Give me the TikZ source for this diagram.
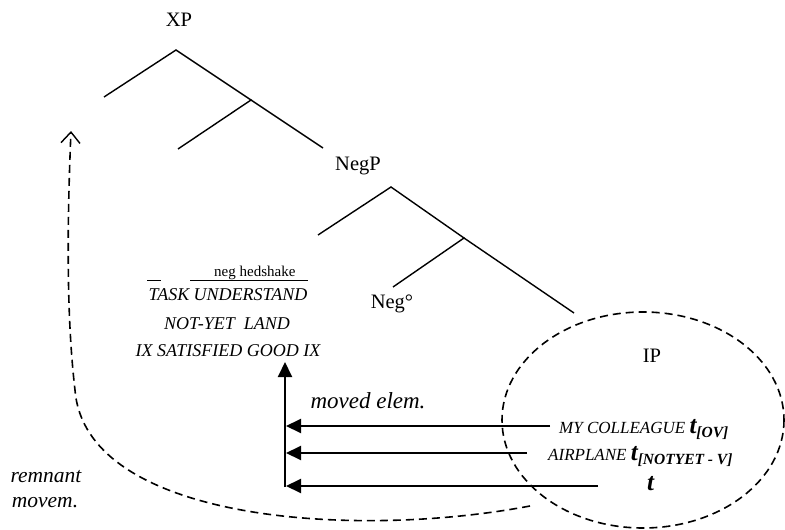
\documentclass[tikz,border=0pt]{standalone}
\usepackage{fontspec}
\setmainfont{Liberation Serif}
\usetikzlibrary{arrows.meta}
\newcommand\tsub[1]{{\fontsize{25}{25}\selectfont\bfseries t}\raisebox{-4pt}{\fontsize{15.5}{16}\selectfont\bfseries #1}}
\begin{document}
\begin{tikzpicture}[x=1pt,y=-1pt,
  branch/.style={line width=1.4pt},
  mvarrow/.style={line width=2pt,-{Triangle[length=15pt,width=14pt]}},
  remnantline/.style={line width=1.6pt,dash pattern=on 8pt off 5pt,-{Straight Barb[length=11pt,width=19pt,line width=1.4pt]}},
  ipring/.style={line width=1.6pt,dash pattern=on 8pt off 5pt},
  lbl/.style={font=\fontsize{20.5}{24}\selectfont, inner sep=0pt, anchor=base},
  blk/.style={font=\fontsize{18}{22}\selectfont\itshape, inner sep=0pt, anchor=base},
  big/.style={font=\fontsize{23}{26}\selectfont\itshape, inner sep=0pt, anchor=base},
  rt/.style={font=\fontsize{17}{20}\selectfont\itshape, inner sep=0pt, anchor=base west}]
\useasboundingbox (0,0) rectangle (785,530);

% tree
\coordinate (xp) at (176,50);
\coordinate (xpl) at (104,97);
\coordinate (xbar) at (251,100);
\coordinate (xbl) at (178,149);
\coordinate (xbr) at (323,148);
\coordinate (negp) at (391,187);
\coordinate (negpl) at (318,235);
\coordinate (negbar) at (464,238);
\coordinate (negl) at (393,287);
\coordinate (negr) at (574,313);
\draw[branch] (xpl) -- (xp) -- (xbar) -- (xbl);
\draw[branch] (xbar) -- (xbr);
\draw[branch] (negpl) -- (negp) -- (negbar) -- (negl);
\draw[branch] (negbar) -- (negr);

\node[lbl] (XP) at (179,27) {XP};
\node[lbl] (NegP) at (358,170) {NegP};
\node[lbl] (Neg) at (392,308) {Neg°};
\node[lbl] (IP) at (652,362) {IP};

% IP ellipse
\draw[ipring] (643,420) ellipse [x radius=141, y radius=108];

% left block
\node[anchor=base west, font=\fontsize{15}{18}\selectfont, inner sep=0pt] (nh) at (214,276) {neg hedshake};
\coordinate (u1a) at (147,280);
\coordinate (u1b) at (161,280);
\coordinate (u2a) at (190,280);
\coordinate (u2b) at (308,280);
\draw[line width=1pt] (u1a) -- (u1b);
\draw[line width=1pt] (u2a) -- (u2b);
\node[blk] (l1) at (228,300) {TASK UNDERSTAND};
\node[blk] (l2) at (227,329) {NOT-YET\ \ LAND};
\node[blk] (l3) at (228,356) {IX SATISFIED GOOD IX};

% movement arrows
\coordinate (vbot) at (285,487);
\coordinate (vtop) at (285,362);
\draw[mvarrow] (vbot) -- (vtop);
\coordinate (h1r) at (550,426);
\coordinate (h1l) at (286,426);
\coordinate (h2r) at (527,453);
\coordinate (h2l) at (286,453);
\coordinate (h3r) at (598,486);
\coordinate (h3l) at (286,486);
\draw[mvarrow] (h1r) -- (h1l);
\draw[mvarrow] (h2r) -- (h2l);
\draw[mvarrow] (h3r) -- (h3l);

\node[big] (moved) at (368,408) {moved elem.};

\node[rt] (m1) at (559,433) {MY COLLEAGUE \tsub{[OV]}};
\node[rt] (m2) at (548,460) {AIRPLANE \tsub{[NOTYET - V]}};
\node[rt, font=\fontsize{25}{25}\selectfont\bfseries\itshape] (m3) at (647,490) {t};

% remnant movement
\coordinate (rs) at (530,506);
\coordinate (rm) at (75,390);
\coordinate (re) at (71,131);
\draw[remnantline] (rs) .. controls (350,540) and (85,520) .. (rm) .. controls (68,330) and (66,250) .. (re);
\node[big, font=\fontsize{21.5}{25}\selectfont\itshape] (r1) at (46,482) {remnant};
\node[big, font=\fontsize{21.5}{25}\selectfont\itshape] (r2) at (45,507) {movem.};
\end{tikzpicture}
\end{document}
